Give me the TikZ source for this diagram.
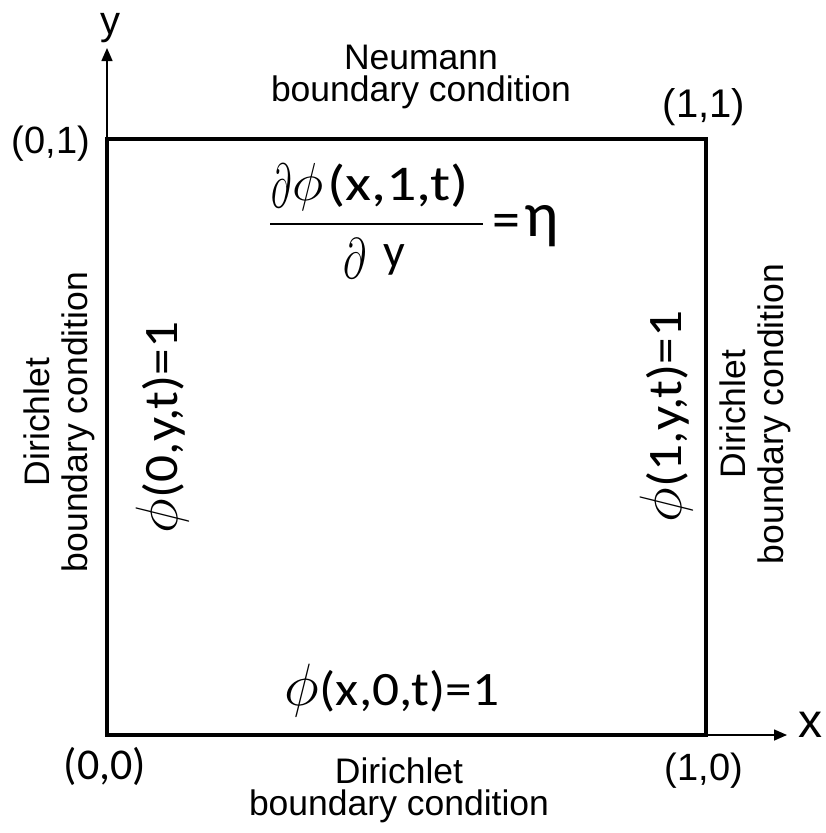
\documentclass[tikz,border=0pt]{standalone}
\usepackage{fontspec}
\setmainfont{Liberation Sans}
\newfontfamily\calfont{Carlito}
\usepackage{graphicx}
\usetikzlibrary{arrows.meta}
\newcommand\mathbig[3]{\scalebox{#1}[#2]{\fontsize{24.88}{25}\selectfont$#3$}}
\newcommand\phirow[1]{\mathbig{2.4}{2.4}{\phi}\hspace{1pt}{\calfont\fontsize{48}{48}\selectfont\scalebox{1.11}[1]{#1}}}
\begin{document}
\begin{tikzpicture}[x=1pt,y=-1pt,
  axis/.style={line width=1.5pt,-{Triangle[length=13pt,width=11pt]}},
  frame/.style={line width=4.5pt},
  eqn/.style={inner sep=0pt},
  lbl/.style={inner sep=0pt,font=\fontsize{38}{38}\selectfont},
  bc/.style={align=center,inner sep=0pt,font=\fontsize{35.5}{32}\selectfont},
  bcr/.style={align=center,inner sep=0pt,rotate=90,font=\fontsize{35.5}{38}\selectfont}]
\useasboundingbox (0,0) rectangle (826,833);
\coordinate (O) at (107,735);
\coordinate (C10) at (706,735);
\coordinate (C11) at (706,139);
\coordinate (C01) at (107,139);
\coordinate (ytip) at (107,48);
\coordinate (xtip) at (787,735);
% axes
\draw[axis] (O) -- (ytip);
\draw[axis] (C10) -- (xtip);
% domain
\draw[frame] (O) rectangle (C11);
% axis labels
\node[inner sep=0pt,anchor=base,font=\fontsize{40}{40}\selectfont] (ylab) at (110,34) {y};
\node[inner sep=0pt,anchor=base,font=\fontsize{48}{48}\selectfont] (xlab) at (810,737) {x};
% corner labels
\node[lbl,anchor=base] (l01) at (51,153) {(0,1)};
\node[lbl,anchor=base,font=\fontsize{40}{40}\selectfont] (l11) at (704,117) {(1,1)};
\node[inner sep=0pt,anchor=base,font=\calfont\fontsize{44}{44}\selectfont] (l00) at (105,779) {(0,0)};
\node[lbl,anchor=base] (l10) at (704,780) {(1,0)};
% boundary condition texts
\node[bc] (topbc) at (421,77) {Neumann\\boundary condition};
\node[bc] (botbc) at (399,790) {Dirichlet\\boundary condition};
\node[bcr] (leftbc) at (59,422) {Dirichlet\\boundary condition};
\node[bcr] (rightbc) at (755,414) {Dirichlet\\boundary condition};
% boundary values
\node[eqn,anchor=base west] (botval) at (284,705) {\phirow{(x,0,t)=1}};
\node[eqn,anchor=base west,rotate=90] (leftval) at (177,534) {\phirow{(0,y,t)=1}};
\node[eqn,anchor=base west,rotate=90] (rightval) at (681,523) {\phirow{(1,y,t)=1}};
% Neumann condition
\node[eqn,anchor=base west] (num) at (271,200) {\raisebox{-7pt}{\mathbig{1.4}{2.5}{\partial}}\hspace{1pt}\mathbig{2.15}{2.15}{\phi}\hspace{4pt}{\calfont\fontsize{50}{50}\selectfont\scalebox{1.2}[1]{(x,1,t)}}};
\coordinate (barL) at (270,224);
\coordinate (barR) at (483,224);
\draw[line width=2pt] (barL) -- (barR);
\node[eqn,anchor=base west] (den) at (343,267) {\raisebox{-11pt}{\mathbig{1.6}{2.3}{\partial}}\hspace{18pt}{\calfont\fontsize{48}{48}\selectfont y}};
\node[eqn] (eqsign) at (506,226) {\calfont\fontsize{56}{56}\selectfont =};
\node[eqn] (eta) at (542,226) {\calfont\fontsize{64}{64}\selectfont η};
\end{tikzpicture}
\end{document}
